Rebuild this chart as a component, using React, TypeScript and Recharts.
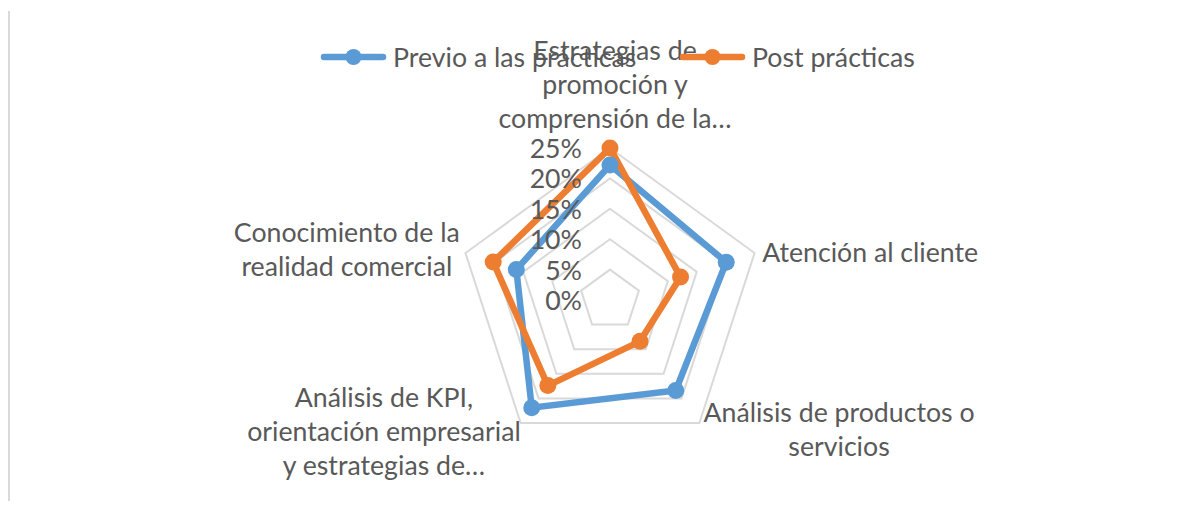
import React from "react";
import {
  RadarChart,
  Radar,
  PolarGrid,
  PolarAngleAxis,
  PolarRadiusAxis,
  Legend,
} from "recharts";

const categories = [
  "Estrategias de promoción y comprensión de la…",
  "Atención al cliente",
  "Análisis de productos o servicios",
  "Análisis de KPI, orientación empresarial y estrategias de…",
  "Conocimiento de la realidad comercial",
];

// wrapped the way the original shows them
const categoryLines = [
  ["Estrategias de", "promoción y", "comprensión de la…"],
  ["Atención al cliente"],
  ["Análisis de productos o", "servicios"],
  ["Análisis de KPI,", "orientación empresarial", "y estrategias de…"],
  ["Conocimiento de la", "realidad comercial"],
];

const previo = [0.222, 0.201, 0.184, 0.219, 0.162];
const post = [0.25, 0.122, 0.084, 0.174, 0.202];

const radiusTicks = [0, 0.05, 0.1, 0.15, 0.2, 0.25];

const seriesNames = ["Previo a las prácticas", "Post prácticas"];

const data = categories.map((c, i) => ({
  category: c,
  previo: previo[i],
  post: post[i],
}));

const FONT = "Lato, 'Open Sans', sans-serif";
const FONT_SIZE = 26.7;
const TEXT = "#595959";
const BLUE = "#5B9BD5";
const ORANGE = "#ED7D31";

const LINE_H = 34;
const labelPlacement = [
  { anchor: "middle", dx: 5, dy: -90 },
  { anchor: "start", dx: 0, dy: 1 },
  { anchor: "middle", dx: 135, dy: -17 },
  { anchor: "middle", dx: -132, dy: -32 },
  { anchor: "middle", dx: -111, dy: -19 },
];

const AngleTick = (props: any) => {
  const { x, y, index } = props;
  const lines = categoryLines[index] || [];
  const p = labelPlacement[index];
  return (
    <text
      x={x + p.dx}
      y={y + p.dy}
      textAnchor={p.anchor}
      fill={TEXT}
      fontFamily={FONT}
      fontSize={FONT_SIZE}
      dominantBaseline="central"
    >
      {lines.map((l, i) => (
        <tspan key={i} x={x + p.dx} y={y + p.dy + i * LINE_H}>
          {l}
        </tspan>
      ))}
    </text>
  );
};

const RadiusTick = (props: any) => {
  const { x, y, payload } = props;
  return (
    <text
      x={x - 28}
      y={y}
      textAnchor="end"
      dominantBaseline="central"
      fill={TEXT}
      fontFamily={FONT}
      fontSize={FONT_SIZE}
    >
      {Math.round(payload.value * 100) + "%"}
    </text>
  );
};

const legendLeft = [312, 671];

const renderLegend = (props: any) => {
  const { payload = [] } = props;
  return (
    <div style={{ position: "relative", height: 38 }}>
      {payload.map((entry: any) => {
        const idx = Math.max(0, seriesNames.indexOf(entry.value));
        return (
          <div
            key={entry.value}
            style={{
              position: "absolute",
              left: legendLeft[idx],
              top: 0,
              height: 38,
              display: "flex",
              alignItems: "center",
              whiteSpace: "nowrap",
            }}
          >
            <svg width={67} height={20} style={{ marginRight: 6 }}>
              <line
                x1={4}
                y1={10}
                x2={63}
                y2={10}
                stroke={entry.color}
                strokeWidth={6.5}
                strokeLinecap="round"
              />
              <circle cx={33.5} cy={10} r={8} fill={entry.color} />
            </svg>
            <span style={{ fontFamily: FONT, fontSize: FONT_SIZE, color: TEXT }}>
              {entry.value}
            </span>
          </div>
        );
      })}
    </div>
  );
};

export default function App() {
  return (
    <div style={{ position: "relative", width: 1184, height: 493 }}>
      <div
        style={{
          position: "absolute",
          left: 0,
          top: 3,
          width: 2,
          height: 490,
          background: "#D9D9D9",
        }}
      />
      <RadarChart
        width={1184}
        height={493}
        data={data}
        cx={602}
        cy={292}
        outerRadius={152}
        margin={{ top: 0, right: 0, bottom: 0, left: 0 }}
      >
        <PolarGrid
          gridType="polygon"
          radialLines={false}
          stroke="#D9D9D9"
          strokeWidth={2}
        />
        <PolarAngleAxis
          dataKey="category"
          tick={AngleTick}
          tickLine={false}
          axisLine={false}
        />
        <PolarRadiusAxis
          angle={90}
          domain={[0, 0.25]}
          ticks={radiusTicks}
          tick={RadiusTick}
          axisLine={false}
          tickLine={false}
        />
        <Radar
          name={seriesNames[0]}
          dataKey="previo"
          stroke={BLUE}
          strokeWidth={6.5}
          fill={BLUE}
          fillOpacity={0}
          dot={{ r: 8.5, fill: BLUE, stroke: BLUE, strokeWidth: 0, fillOpacity: 1 }}
          isAnimationActive={false}
        />
        <Radar
          name={seriesNames[1]}
          dataKey="post"
          stroke={ORANGE}
          strokeWidth={6.5}
          fill={ORANGE}
          fillOpacity={0}
          dot={{ r: 8.5, fill: ORANGE, stroke: ORANGE, strokeWidth: 0, fillOpacity: 1 }}
          isAnimationActive={false}
        />
        <Legend
          verticalAlign="middle"
          layout="horizontal"
          content={renderLegend}
          wrapperStyle={{ top: 30, left: 0, width: 1184 }}
        />
      </RadarChart>
    </div>
  );
}
